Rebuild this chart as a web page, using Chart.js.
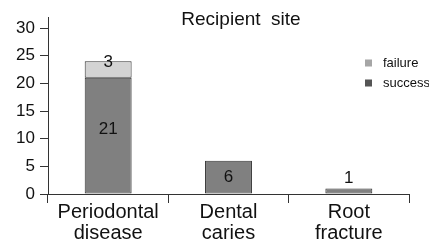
<!DOCTYPE html>
<html>
<head>
<meta charset="utf-8">
<script src="https://cdn.jsdelivr.net/npm/chart.js@4/dist/chart.umd.min.js"></script>
<style>
  html, body { margin: 0; padding: 0; background: #fff; }
  #wrap { width: 429px; height: 249px; }
</style>
</head>
<body>
<div id="wrap"><canvas id="chart" width="429" height="249"></canvas></div>
<script>
// data
var categories = [['Periodontal', 'disease'], ['Dental', 'caries'], ['Root', 'fracture']];
var success = [21, 6, 1];
var failure = [3, 0, 0];
var yTicks = [0, 5, 10, 15, 20, 25, 30];

var FONT = 'Arial, "Liberation Sans", sans-serif';

// title drawn by hand so it can sit over the top of the plot area
var titlePlugin = {
    id: 'titleText',
    afterDraw: function (chart) {
        var c = chart.ctx;
        c.save();
        c.font = '19px ' + FONT;
        c.fillStyle = '#111';
        c.textAlign = 'center';
        c.textBaseline = 'middle';
        c.fillText('Recipient  site', 241, 20);
        c.restore();
    }
};

// small legend at the right edge
var legendPlugin = {
    id: 'sideLegend',
    afterDraw: function (chart) {
        var c = chart.ctx;
        var items = [
            { text: chart.data.datasets[1].label, color: '#a6a6a6' },
            { text: chart.data.datasets[0].label, color: '#555555' }
        ];
        c.save();
        c.font = '13px ' + FONT;
        c.textBaseline = 'middle';
        c.textAlign = 'left';
        items.forEach(function (it, i) {
            var y = 63 + i * 20;
            c.fillStyle = it.color;
            c.fillRect(365, y - 3.5, 7, 7);
            c.fillStyle = '#111';
            c.fillText(it.text, 383, y);
        });
        c.restore();
    }
};

// value labels on the bars
var valuePlugin = {
    id: 'values',
    afterDatasetsDraw: function (chart) {
        var c = chart.ctx;
        c.save();
        c.font = '17px ' + FONT;
        c.fillStyle = '#111';
        c.textAlign = 'center';
        c.textBaseline = 'middle';
        chart.data.datasets.forEach(function (ds, di) {
            chart.getDatasetMeta(di).data.forEach(function (el, i) {
                var v = ds.data[i];
                if (!v) return;
                var h = el.base - el.y;
                var mid = (el.base + el.y) / 2;
                var y;
                if (h >= 50) y = mid - 6;
                else if (h >= 20) y = mid;
                else if (h >= 12) y = el.y + 1;
                else y = el.y - 10;
                c.fillText(String(v), el.x, y);
            });
        });
        c.restore();
    }
};

var ctx = document.getElementById('chart').getContext('2d');
var chart = new Chart(ctx, {
    type: 'bar',
    data: {
        labels: categories,
        datasets: [{
            label: 'success',
            data: success,
            backgroundColor: '#808080',
            borderColor: '#333333',
            borderWidth: 1,
            borderSkipped: false
        }, {
            label: 'failure',
            data: failure,
            backgroundColor: '#d3d3d3',
            borderColor: '#333333',
            borderWidth: 1,
            borderSkipped: false
        }]
    },
    options: {
        responsive: false,
        animation: false,
        devicePixelRatio: 1,
        layout: { padding: { left: 0, right: 20, top: 17, bottom: 0 } },
        plugins: {
            legend: { display: false },
            title: { display: false },
            tooltip: { enabled: false }
        },
        datasets: {
            bar: { categoryPercentage: 1, barPercentage: 0.39 }
        },
        scales: {
            x: {
                stacked: true,
                afterFit: function (s) { s.height = 55; },
                grid: {
                    offset: true,
                    drawOnChartArea: false,
                    drawTicks: true,
                    tickLength: 9,
                    color: '#333'
                },
                border: { display: true, color: '#333', width: 1 },
                ticks: {
                    color: '#111',
                    padding: -1,
                    maxRotation: 0,
                    font: { family: FONT, size: 20, lineHeight: 1.05 }
                }
            },
            y: {
                stacked: true,
                min: 0,
                max: 32,
                afterFit: function (s) { s.width = 48; },
                afterBuildTicks: function (s) {
                    s.ticks = yTicks.map(function (v) { return { value: v }; });
                },
                grid: {
                    drawOnChartArea: false,
                    drawTicks: true,
                    tickLength: 8,
                    color: '#333'
                },
                border: { display: true, color: '#333', width: 1 },
                ticks: {
                    color: '#111',
                    padding: 5,
                    font: { family: FONT, size: 17 }
                }
            }
        }
    },
    plugins: [valuePlugin, titlePlugin, legendPlugin]
});
</script>
</body>
</html>
